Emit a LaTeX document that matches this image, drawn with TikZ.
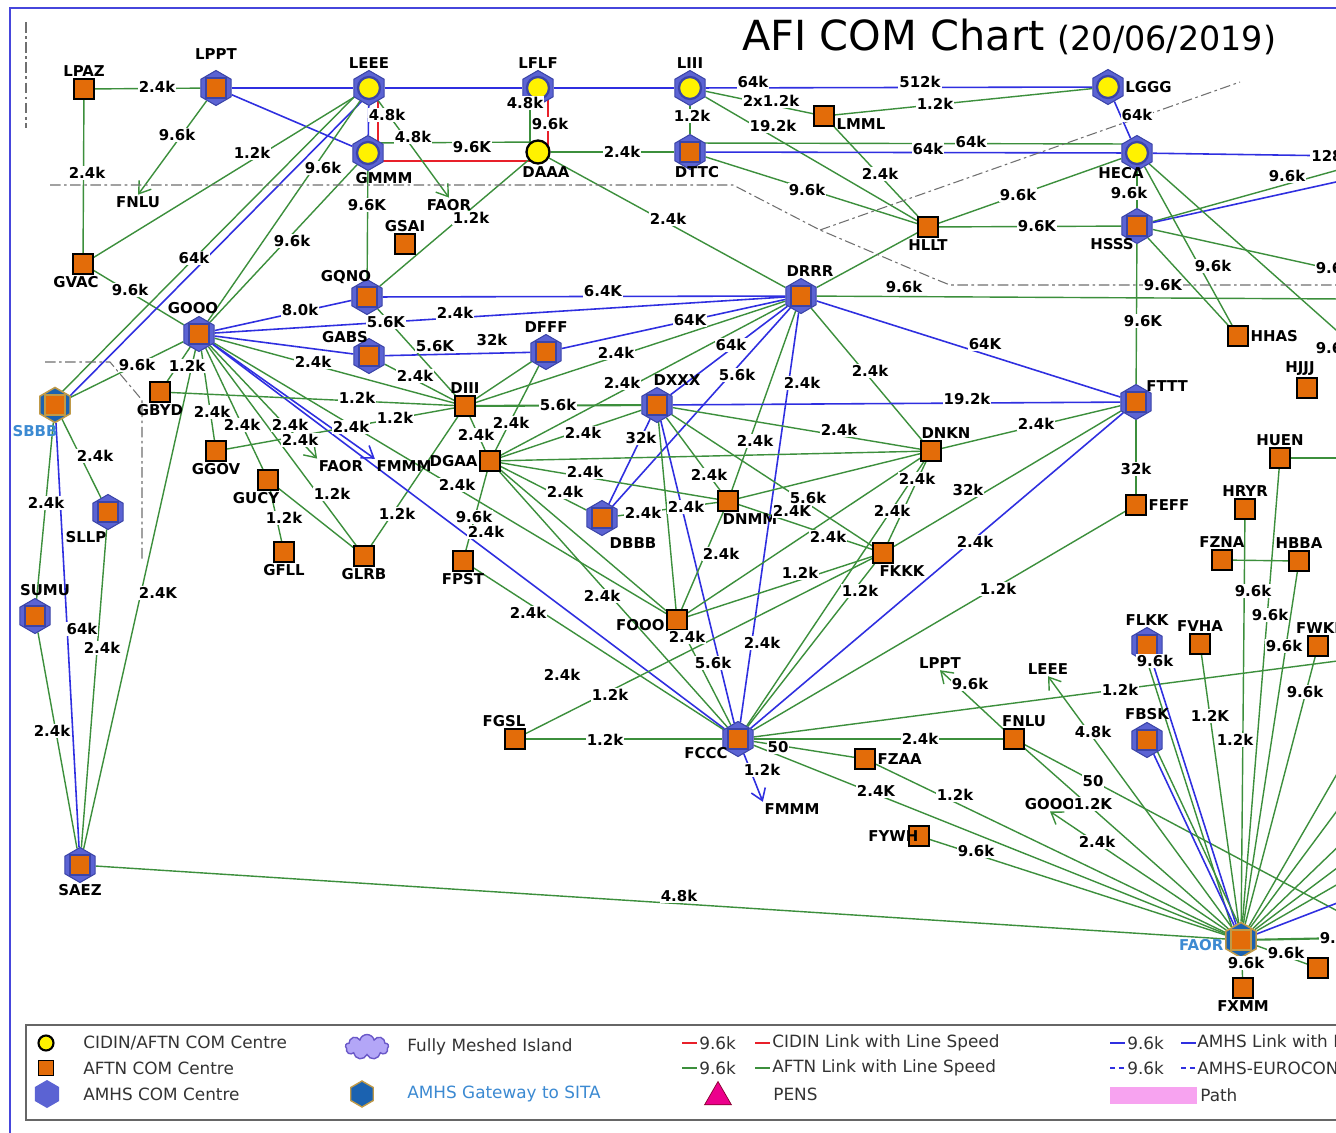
\documentclass[tikz,border=0pt]{standalone}
\usepackage{fontspec}
\setmainfont{DejaVu Sans}
\usetikzlibrary{shapes.geometric,shapes.symbols,arrows.meta}
\pgfdeclarelayer{back}
\pgfdeclarelayer{lines}
\pgfsetlayers{back,lines,main}
\definecolor{aftng}{HTML}{3C8F3C}
\definecolor{amhsb}{HTML}{2F2FE0}
\definecolor{cidr}{HTML}{E8202A}
\definecolor{hexfill}{HTML}{5B63D3}
\definecolor{hexline}{HTML}{3B44A8}
\definecolor{sqorange}{HTML}{E36C09}
\definecolor{cidyel}{HTML}{FFF200}
\definecolor{gwfill}{HTML}{1B62B0}
\definecolor{gwline}{HTML}{C09A48}
\definecolor{gwtext}{HTML}{3C8AD2}
\definecolor{frameb}{HTML}{4646DC}
\definecolor{zone}{HTML}{707070}
\definecolor{cloudf}{HTML}{B3A6F7}
\definecolor{cloudl}{HTML}{6A58C8}
\definecolor{pathpink}{HTML}{F7A3F0}
\newcommand{\spdfont}{\fontsize{8.5}{9}\selectfont\bfseries}
\newcommand{\lk}[3][aftn]{\begin{pgfonlayer}{lines}\path[#1] (#2) -- (#3);\end{pgfonlayer}}
\newcommand{\lkt}[5][aftn]{\lk[#1]{#2}{#3}\node[spd] at (#4) {#5};}

\begin{document}
\begin{tikzpicture}[x=0.02cm,y=-0.02cm,>={Straight Barb[length=.22cm,width=.3cm]}]
        \tikzstyle{aftn}=[draw=aftng,line width=.8pt]
        \tikzstyle{amhs}=[draw=amhsb,line width=.9pt]
        \tikzstyle{cidin}=[draw=cidr,line width=.9pt]
        \tikzstyle{spd}=[fill=white,inner sep=.6pt,font=\spdfont]
        \tikzstyle{lab}=[inner sep=.8pt,font=\spdfont]
        \tikzstyle{sqr}=[rectangle,minimum size=.4cm,inner sep=0pt,fill=sqorange,draw=black,line width=.9pt]
        \tikzstyle{cir}=[circle,minimum size=.46cm,inner sep=0pt,fill=cidyel,draw=black,line width=1.3pt]
        \tikzstyle{hexa}=[regular polygon,regular polygon sides=6,shape border rotate=30,minimum size=.7cm,inner sep=0pt,fill=hexfill,draw=hexline,line width=.6pt]
        \tikzstyle{hsq}=[hexa,path picture={\draw[fill=sqorange,line width=1pt] ([shift={(-.2cm,-.2cm)}]path picture bounding box.center) rectangle ([shift={(.2cm,.2cm)}]path picture bounding box.center);}]
        \tikzstyle{hci}=[hexa,path picture={\draw[fill=cidyel,line width=1.3pt] (path picture bounding box.center) circle (.22cm);}]
        \tikzstyle{gwy}=[hsq,fill=gwfill,draw=gwline,line width=.9pt]
        \tikzstyle{zonel}=[draw=zone,line width=.6pt,dash pattern=on 6pt off 2pt on 1.5pt off 2pt]
        \tikzstyle{lgt}=[anchor=west,inner sep=0pt,font=\fontsize{9.6}{11}\selectfont,text=black!80]
        \useasboundingbox (0,0) rectangle (1336,1133);
        \begin{pgfonlayer}{back}\fill[white] (0,0) rectangle (1336,1133);\end{pgfonlayer}
        \draw[frameb,line width=1.7pt] (10,8) rectangle (1400,1200);
        \node[anchor=base west,inner sep=0pt] (title) at (742,50) {\fontsize{23.6}{26}\selectfont AFI COM Chart \fontsize{19}{22}\selectfont(20/06/2019)};
        \draw[zonel] (26,22) -- (26,128);
        \draw[zonel] (50,185) -- (733,185) -- (820,230) -- (935,279) -- (950,285) -- (1345,285);
        \draw[zonel] (820,230) -- (1240,82);
        \draw[zonel] (45,362) -- (110,362) -- (142,400) -- (142,562);
        \node[sqr,label={[lab]above:LPAZ}] (LPAZ) at (84,89) {};
        \node[hsq,label={[lab,yshift=.18cm]above:LPPT}] (LPPT) at (216,88) {};
        \node[hci,label={[lab]above:LEEE}] (LEEE) at (369,88) {};
        \node[hci,label={[lab]above:LFLF}] (LFLF) at (538,88) {};
        \node[hci,label={[lab]above:LIII}] (LIII) at (690,88) {};
        \node[hci,label={[lab]right:LGGG}] (LGGG) at (1108,87) {};
        \node[hci,label={[lab,xshift=.32cm]below:GMMM}] (GMMM) at (368,153) {};
        \node[cir,label={[lab,xshift=.16cm]below:DAAA}] (DAAA) at (538,152) {};
        \node[hsq,label={[lab,xshift=.14cm,yshift=.1cm]below:DTTC}] (DTTC) at (690,152) {};
        \node[sqr,label={[lab,yshift=-.16cm]right:LMML}] (LMML) at (824,116) {};
        \node[hci,label={[lab,xshift=-.32cm,yshift=.1cm]below:HECA}] (HECA) at (1137,153) {};
        \node[sqr,label={[lab]below:HLLT}] (HLLT) at (928,227) {};
        \node[hsq,label={[lab,xshift=-.5cm,yshift=.14cm]below:HSSS}] (HSSS) at (1137,226) {};
        \node[sqr,label={[lab]above:GSAI}] (GSAI) at (405,244) {};
        \node[sqr,label={[lab,xshift=-.14cm]below:GVAC}] (GVAC) at (83,264) {};
        \node[hsq,label={[lab,xshift=-.42cm,yshift=-.14cm]above:GQNO}] (GQNO) at (367,297) {};
        \node[hsq,label={[lab,xshift=-.12cm]above:GOOO}] (GOOO) at (199,334) {};
        \node[hsq,label={[lab,xshift=-.48cm,yshift=-.14cm]above:GABS}] (GABS) at (369,356) {};
        \node[hsq,label={[lab]above:DFFF}] (DFFF) at (546,352) {};
        \node[hsq,label={[lab,xshift=.18cm]above:DRRR}] (DRRR) at (801,296) {};
        \node[sqr,label={[lab]right:HHAS}] (HHAS) at (1238,336) {};
        \node[sqr,label={[lab,xshift=-.14cm]above:HJJJ}] (HJJJ) at (1307,388) {};
        \node[hsq,label={[lab,xshift=-.14cm,yshift=.32cm]right:FTTT}] (FTTT) at (1136,402) {};
        \node[gwy,label={[lab,text=gwtext,xshift=-.4cm]below:SBBB}] (SBBB) at (55,405) {};
        \node[sqr,label={[lab]below:GBYD}] (GBYD) at (160,392) {};
        \node[sqr,label={[lab]above:DIII}] (DIII) at (465,406) {};
        \node[hsq,label={[lab,xshift=.4cm]above:DXXX}] (DXXX) at (657,405) {};
        \node[sqr,label={[lab,xshift=.3cm]above:DNKN}] (DNKN) at (931,451) {};
        \node[sqr,label={[lab]above:HUEN}] (HUEN) at (1280,458) {};
        \node[sqr,label={[lab]below:GGOV}] (GGOV) at (216,451) {};
        \node[sqr,label={[lab]left:DGAA}] (DGAA) at (490,461) {};
        \node[sqr,label={[lab,xshift=-.24cm]below:GUCY}] (GUCY) at (268,480) {};
        \node[sqr,label={[lab,xshift=.44cm]below:DNMM}] (DNMM) at (728,501) {};
        \node[sqr,label={[lab]right:FEFF}] (FEFF) at (1136,505) {};
        \node[sqr,label={[lab]above:HRYR}] (HRYR) at (1245,509) {};
        \node[hsq,label={[lab,xshift=-.44cm]below:SLLP}] (SLLP) at (108,512) {};
        \node[hsq,label={[lab,xshift=.62cm]below:DBBB}] (DBBB) at (602,518) {};
        \node[sqr,label={[lab]above:FZNA}] (FZNA) at (1222,560) {};
        \node[sqr,label={[lab]above:HBBA}] (HBBA) at (1299,561) {};
        \node[sqr,label={[lab]below:GFLL}] (GFLL) at (284,552) {};
        \node[sqr,label={[lab]below:GLRB}] (GLRB) at (364,556) {};
        \node[sqr,label={[lab]below:FPST}] (FPST) at (463,561) {};
        \node[sqr,label={[lab,xshift=.38cm]below:FKKK}] (FKKK) at (883,553) {};
        \node[hsq,label={[lab,xshift=.2cm]above:SUMU}] (SUMU) at (35,616) {};
        \node[sqr,label={[lab,yshift=-.1cm]left:FOOO}] (FOOO) at (677,620) {};
        \node[hsq,label={[lab]above:FLKK}] (FLKK) at (1147,645) {};
        \node[sqr,label={[lab]above:FVHA}] (FVHA) at (1200,644) {};
        \node[sqr,label={[lab]above:FWKI}] (FWKI) at (1318,646) {};
        \node[sqr,label={[lab,xshift=-.22cm]above:FGSL}] (FGSL) at (515,739) {};
        \node[hsq,label={[lab,xshift=.14cm,yshift=-.28cm]left:FCCC}] (FCCC) at (738,739) {};
        \node[sqr,label={[lab,xshift=.2cm]above:FNLU}] (FNLU) at (1014,739) {};
        \node[hsq,label={[lab]above:FBSK}] (FBSK) at (1147,740) {};
        \node[sqr,label={[lab]right:FZAA}] (FZAA) at (865,759) {};
        \node[sqr,label={[lab,xshift=.24cm]left:FYWH}] (FYWH) at (919,836) {};
        \node[hsq,label={[lab]below:SAEZ}] (SAEZ) at (80,865) {};
        \node[gwy,label={[lab,text=gwtext,yshift=-.1cm]left:FAOR}] (FAOR) at (1241,940) {};
        \node[sqr,label={[lab]below:FXMM}] (FXMM) at (1243,988) {};
        \node[sqr] (FQRT) at (1318,968) {};
        \node[lab] (toFNLU) at (138,202) {FNLU};
        \node[lab] (toFAORa) at (449,205) {FAOR};
        \node[lab] (toFAORb) at (341,466) {FAOR};
        \node[lab] (toFMMMa) at (404,466) {FMMM};
        \node[lab] (toFMMMb) at (792,809) {FMMM};
        \node[lab] (toLPPT) at (940,663) {LPPT};
        \node[lab] (toLEEE) at (1048,669) {LEEE};
        \node[lab] (toGOOO) at (1050,804) {GOOO};
        \coordinate (r1) at (1345,156);
        \coordinate (r2) at (1345,168);
        \coordinate (r3) at (1345,180);
        \coordinate (r4) at (1345,272);
        \coordinate (r5) at (1345,338);
        \coordinate (r6) at (1345,299);
        \coordinate (r7) at (1345,660);
        \coordinate (r8) at (1345,458);
        \coordinate (r9) at (1345,915);
        \coordinate (r10) at (1345,900);
        \coordinate (r11) at (1345,880);
        \coordinate (r12) at (1345,938);
        \coordinate (r13) at (1345,760);
        \coordinate (r14) at (1345,800);
        \coordinate (r15) at (1345,840);
        \coordinate (r16) at (1345,862);
        \lkt{LPAZ}{LPPT}{157,87}{2.4k}
        \lkt{LPAZ}{GVAC}{87,173}{2.4k}
        \lkt[aftn,->]{LPPT}{toFNLU.north}{177,135}{9.6k}
        \lk[amhs]{LPPT}{LEEE}
        \lk[amhs]{LPPT}{GMMM}
        \lk[amhs]{LEEE}{LFLF}
        \lk[amhs]{LFLF}{LIII}
        \lkt[amhs]{LIII}{LGGG}{753,82}{64k}
        \node[spd] at (920,82) {512k};
        \lkt{GVAC}{LEEE}{252,153}{1.2k}
        \lkt{GVAC}{GOOO}{130,290}{9.6k}
        \lk{[xshift=-.06cm,yshift=.06cm]LEEE.center}{[xshift=-.06cm,yshift=.06cm]SBBB.center}
        \lkt[amhs]{[xshift=.06cm,yshift=-.06cm]LEEE.center}{[xshift=.06cm,yshift=-.06cm]SBBB.center}{194,258}{64k}
        \lkt{LEEE}{GOOO}{323,168}{9.6k}
        \lkt{GMMM}{GOOO}{292,241}{9.6k}
        \lk[amhs]{LEEE}{GMMM}
        \begin{pgfonlayer}{lines}\draw[cidin] ([xshift=.18cm]LEEE.center) |- ([yshift=-.18cm]DAAA.center);\end{pgfonlayer}
        \lkt[cidin]{[xshift=.2cm]LFLF.center}{[xshift=.2cm]DAAA.center}{550,124}{9.6k}
        \lkt{[xshift=-.16cm]LFLF.center}{[xshift=-.16cm]DAAA.center}{525,103}{4.8k}
        \lkt[aftn,->]{LEEE}{toFAORa.north}{387,115}{4.8k}
        \lkt{[yshift=.2cm]GMMM.center}{[yshift=.2cm]DAAA.center}{413,137}{4.8k}
        \node[spd] at (472,147) {9.6K};
        \lkt{GMMM}{GQNO}{367,205}{9.6K}
        \lkt{GQNO}{DAAA}{471,218}{1.2k}
        \lkt{DAAA}{DTTC}{622,152}{2.4k}
        \lkt{DAAA}{DRRR}{668,219}{2.4k}
        \lkt{LIII}{LMML}{771,101}{2x1.2k}
        \lkt{LMML}{LGGG}{935,104}{1.2k}
        \lkt{LIII}{DTTC}{692,116}{1.2k}
        \lkt{LIII}{HLLT}{773,126}{19.2k}
        \lkt{LMML}{HLLT}{880,174}{2.4k}
        \lkt{[yshift=.18cm]DTTC.center}{[yshift=.18cm]HECA.center}{971,142}{64k}
        \lkt[amhs]{DTTC}{HECA}{928,149}{64k}
        \lkt{DTTC}{HLLT}{807,190}{9.6k}
        \lk{DRRR}{HLLT}
        \lkt{HLLT}{HSSS}{1037,226}{9.6K}
        \lkt{HLLT}{HECA}{1018,195}{9.6k}
        \lkt[amhs]{LGGG}{HECA}{1137,115}{64k}
        \lkt[amhs]{HECA}{r1}{1332,156}{128k}
        \lkt{HECA}{HSSS}{1129,193}{9.6k}
        \lkt{HSSS}{r2}{1287,176}{9.6k}
        \lk[amhs]{HSSS}{r3}
        \lkt{HSSS}{r4}{1334,268}{9.6k}
        \lkt{HECA}{HHAS}{1213,266}{9.6k}
        \lk{HSSS}{HHAS}
        \lkt{HECA}{r5}{1334,348}{9.6k}
        \lkt{DRRR}{r6}{904,287}{9.6k}
        \node[spd] at (1163,285) {9.6K};
        \lkt{HSSS}{FTTT}{1143,321}{9.6K}
        \lkt[amhs]{DRRR}{FTTT}{985,344}{64K}
        \lkt[amhs]{GQNO}{DRRR}{603,291}{6.4K}
        \lkt[amhs]{GOOO}{DRRR}{455,313}{2.4k}
        \node[spd] at (386,322) {5.6K};
        \lkt[amhs]{GOOO}{GQNO}{300,310}{8.0k}
        \lk[amhs]{GOOO}{GABS}
        \lkt[amhs]{GABS}{DFFF}{492,340}{32k}
        \lkt{GQNO}{DIII}{435,346}{5.6K}
        \lkt[amhs]{DFFF}{DRRR}{690,320}{64K}
        \lkt{DIII}{DRRR}{616,353}{2.4k}
        \lkt[amhs]{DRRR}{DXXX}{731,345}{64k}
        \lkt[amhs]{DRRR}{DBBB}{737,375}{5.6k}
        \lkt{DGAA}{DRRR}{622,383}{2.4k}
        \lkt{DRRR}{DNMM}{755,441}{2.4k}
        \lkt[amhs]{DRRR}{FCCC}{802,383}{2.4k}
        \node[spd] at (762,643) {2.4k};
        \lkt{DRRR}{DNKN}{870,371}{2.4k}
        \lkt[aftn,line width=1.2pt]{DIII}{DXXX}{558,405}{5.6k}
        \lkt[amhs]{DXXX}{FTTT}{967,399}{19.2k}
        \lkt{DXXX}{DNKN}{839,430}{2.4k}
        \lkt[amhs]{DXXX}{DBBB}{641,438}{32k}
        \lkt{DXXX}{DNMM}{709,475}{2.4k}
        \lkt{DXXX}{FKKK}{808,498}{5.6k}
        \lk{DXXX}{FOOO}
        \lkt[amhs]{DXXX}{FCCC}{713,663}{5.6k}
        \lk{DFFF}{DIII}
        \lkt{DIII}{GLRB}{397,514}{1.2k}
        \lkt{DIII}{DGAA}{476,435}{2.4k}
        \lkt{DGAA}{FPST}{474,517}{9.6k}
        \lkt[amhs]{GOOO}{FCCC}{486,532}{2.4k}
        \lkt{FPST}{FCCC}{528,613}{2.4k}
        \lkt{DGAA}{DFFF}{511,423}{2.4k}
        \lkt{DGAA}{DXXX}{583,433}{2.4k}
        \lk{DGAA}{DNKN}
        \lkt{DGAA}{DNMM}{585,472}{2.4k}
        \lkt{DGAA}{DBBB}{565,492}{2.4k}
        \lkt{DBBB}{DNMM}{643,513}{2.4k}
        \node[spd] at (686,507) {2.4k};
        \lkt{DGAA}{FOOO}{602,596}{2.4k}
        \lk{DGAA}{FCCC}
        \lkt{DNMM}{FKKK}{828,537}{2.4k}
        \node[spd] at (792,511) {2.4K};
        \lkt{DNKN}{FTTT}{1036,424}{2.4k}
        \lk{DNKN}{FOOO}
        \lkt{DNKN}{FKKK}{917,479}{2.4k}
        \lkt{DNKN}{FCCC}{892,511}{2.4k}
        \lk{DNKN}{DNMM}
        \lkt{FKKK}{FTTT}{968,490}{32k}
        \lkt[amhs]{FTTT}{FCCC}{975,542}{2.4k}
        \lkt{FTTT}{FEFF}{1136,469}{32k}
        \lkt{FEFF}{FCCC}{998,589}{1.2k}
        \lkt{FOOO}{FCCC}{687,637}{2.4k}
        \lkt{DNMM}{FOOO}{721,554}{2.4k}
        \lkt{FOOO}{FKKK}{800,573}{1.2k}
        \lkt{FCCC}{FKKK}{860,591}{1.2k}
        \lkt{FGSL}{FKKK}{610,695}{1.2k}
        \node[spd] at (562,675) {2.4k};
        \lkt[aftn,line width=1.2pt]{FGSL}{FCCC}{605,740}{1.2k}
        \lkt[aftn,line width=1.2pt]{FCCC}{FNLU}{920,739}{2.4k}
        \lkt{FCCC}{FZAA}{778,747}{50}
        \lkt{FCCC}{FAOR}{876,791}{2.4K}
        \lkt{FZAA}{FAOR}{955,795}{1.2k}
        \lkt{FYWH}{FAOR}{976,851}{9.6k}
        \lkt[amhs,->]{FCCC}{toFMMMb.north west}{762,770}{1.2k}
        \lkt{FCCC}{r7}{1120,690}{1.2k}
        \lkt[aftn,->]{FNLU}{toLPPT.south}{970,684}{9.6k}
        \lkt[aftn,->]{FAOR}{toLEEE.south}{1093,732}{4.8k}
        \lkt[aftn,->]{FAOR}{toGOOO.south}{1097,842}{2.4k}
        \lkt{FNLU}{FAOR}{1093,804}{1.2K}
        \lkt{FNLU}{r9}{1093,781}{50}
        \lkt{FVHA}{FAOR}{1210,716}{1.2K}
        \lkt{HRYR}{FAOR}{1253,591}{9.6k}
        \node[spd] at (1235,740) {1.2k};
        \lkt{HUEN}{FAOR}{1270,615}{9.6k}
        \lkt{HBBA}{FAOR}{1284,646}{9.6k}
        \lkt{FWKI}{FAOR}{1305,692}{9.6k}
        \lk{FZNA}{HBBA}
        \lk[aftn,line width=1.2pt]{HUEN}{r8}
        \lk{[xshift=-.1cm]FLKK.center}{[xshift=-.1cm]FAOR.center}
        \lkt[amhs]{FLKK}{FAOR}{1155,661}{9.6k}
        \lk[amhs]{FBSK}{FAOR}
        \lk{[xshift=.1cm]FBSK.center}{[xshift=.1cm]FAOR.center}
        \lkt{FAOR}{FXMM}{1246,963}{9.6k}
        \lkt{FAOR}{FQRT}{1286,953}{9.6k}
        \lk[amhs]{FAOR}{r10}
        \lk{FAOR}{r11}
        \lkt[aftn,line width=1.2pt]{FAOR}{r12}{1338,938}{9.6k}
        \lk{FAOR}{r13}
        \lk{FAOR}{r14}
        \lk{FAOR}{r15}
        \lk{FAOR}{r16}
        \lkt{SAEZ}{FAOR}{679,896}{4.8k}
        \lkt{SBBB}{SUMU}{46,503}{2.4k}
        \lkt{SBBB}{SLLP}{95,456}{2.4k}
        \lkt[amhs]{SBBB}{SAEZ}{82,629}{64k}
        \lkt{SLLP}{SAEZ}{102,648}{2.4k}
        \lkt{SUMU}{SAEZ}{52,731}{2.4k}
        \lkt{SAEZ}{GOOO}{158,593}{2.4K}
        \lkt{GOOO}{SBBB}{137,365}{9.6k}
        \lkt{GOOO}{GBYD}{187,366}{1.2k}
        \lkt{GOOO}{GGOV}{212,412}{2.4k}
        \lkt{GOOO}{GUCY}{242,425}{2.4k}
        \lkt{GOOO}{GLRB}{290,425}{2.4k}
        \lkt[aftn,->]{GOOO}{toFAORb.north west}{300,440}{2.4k}
        \lkt[amhs,->]{GOOO}{toFMMMa.north west}{351,427}{2.4k}
        \lkt{GOOO}{DIII}{313,362}{2.4k}
        \lkt{GABS}{DIII}{415,376}{2.4k}
        \lkt{GBYD}{DIII}{357,398}{1.2k}
        \lkt{GGOV}{DIII}{395,418}{1.2k}
        \lkt{GUCY}{GFLL}{284,518}{1.2k}
        \lkt{GUCY}{GLRB}{332,494}{1.2k}
        \lkt{GOOO}{FOOO}{457,485}{2.4k}
        \draw[draw=black!60,line width=1pt] (26,1025) rectangle (1400,1120);
        \node[cir,minimum size=.3cm,line width=1.2pt] (lgCid) at (46,1043) {};
        \node[lgt] (lgCidT) at (83,1043) {CIDIN/AFTN COM Centre};
        \node[sqr,minimum size=.3cm] (lgAft) at (46,1068) {};
        \node[lgt] (lgAftT) at (83,1068) {AFTN COM Centre};
        \node[hexa,minimum size=.56cm,draw=none] (lgAmh) at (47,1094) {};
        \node[lgt] (lgAmhT) at (83,1094) {AMHS COM Centre};
        \node[cloud,cloud puffs=9,aspect=1.6,minimum width=.86cm,minimum height=.5cm,inner sep=0pt,fill=cloudf,draw=cloudl,line width=.8pt] (lgCld) at (367,1047) {};
        \node[lgt] (lgCldT) at (407,1047) {Fully Meshed Island};
        \node[hexa,minimum size=.52cm,fill=gwfill,draw=gwline,line width=.8pt] (lgGw) at (362,1094) {};
        \node[lgt,text=gwtext] (lgGwT) at (407,1094) {AMHS Gateway to SITA};
        \draw[cidin] (682,1043) -- (697,1043);
        \node[lgt] (lgR1) at (699,1043) {9.6k};
        \draw[cidin] (755,1043) -- (770,1043);
        \node[lgt] (lgR2) at (772,1043) {CIDIN Link with Line Speed};
        \draw[aftn,line width=1pt] (682,1068) -- (697,1068);
        \node[lgt] (lgG1) at (699,1068) {9.6k};
        \draw[aftn,line width=1pt] (755,1068) -- (770,1068);
        \node[lgt] (lgG2) at (772,1068) {AFTN Link with Line Speed};
        \node[regular polygon,regular polygon sides=3,minimum size=.62cm,inner sep=0pt,fill=magenta,draw=purple!70!black] (lgPens) at (718,1097) {};
        \node[lgt] (lgPensT) at (773,1094) {PENS};
        \draw[amhs] (1110,1043) -- (1125,1043);
        \node[lgt] (lgB1) at (1127,1043) {9.6k};
        \draw[amhs] (1181,1043) -- (1196,1043);
        \node[lgt] (lgB2) at (1197,1043) {AMHS Link with Line Speed};
        \draw[amhs,dash pattern=on 3pt off 2pt] (1110,1068) -- (1125,1068);
        \node[lgt] (lgD1) at (1127,1068) {9.6k};
        \draw[amhs,dash pattern=on 3pt off 2pt] (1181,1068) -- (1196,1068);
        \node[lgt] (lgD2) at (1197,1068) {AMHS-EUROCONTROL Link};
        \fill[pathpink] (1110,1087) rectangle (1197,1104);
        \node[lgt] (lgPath) at (1200,1095) {Path};
\end{tikzpicture}
\end{document}
